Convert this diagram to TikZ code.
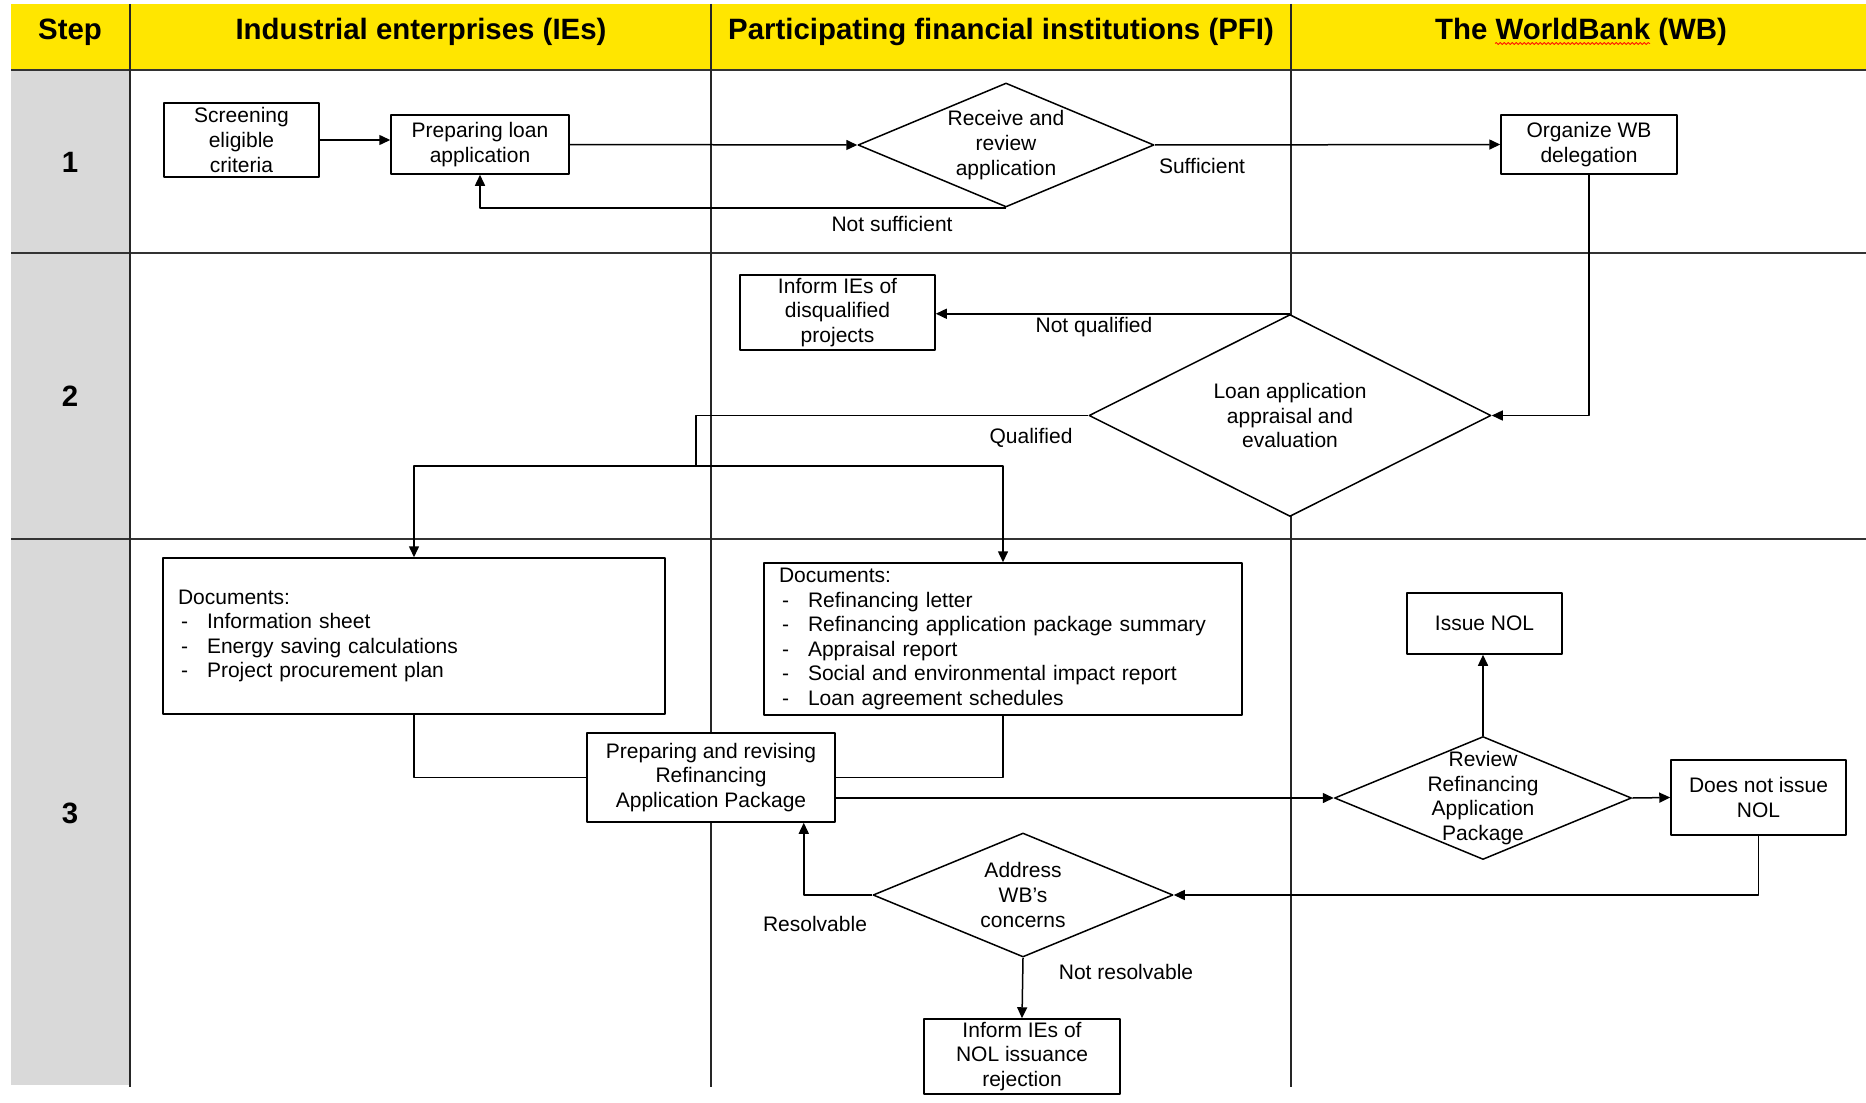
\documentclass[tikz,border=0pt]{standalone}
\usepackage{fontspec}
\setmainfont{Liberation Sans}
\usepackage{xcolor}
\usepackage{tikz}
\usetikzlibrary{arrows.meta,calc,shapes.geometric,decorations.pathmorphing}
\definecolor{hdryellow}{HTML}{FFE600}
\definecolor{stepgrey}{HTML}{D9D9D9}
\definecolor{rulegrey}{HTML}{333333}
\newcommand{\docitem}[1]{\makebox[14.5pt][l]{\hspace{1.5pt}-}#1}

\begin{document}
\begin{tikzpicture}[x=0.5pt,y=-0.5pt,>={Triangle[length=5.5pt,width=5pt]},line join=round,
    font=\fontsize{10.5}{12.3}\selectfont,
    box/.style={draw,fill=white,line width=0.75pt,align=center,inner sep=0pt},
    docbox/.style={draw,fill=white,line width=0.75pt,align=left,inner xsep=7.5pt,inner ysep=0pt},
    dia/.style={diamond,draw,fill=white,line width=0.75pt,inner sep=0pt},
    dtext/.style={align=center},
    hdr/.style={font=\fontsize{14.7}{17}\selectfont\bfseries,anchor=base},
    lbl/.style={text height=7pt,text depth=2pt,inner sep=0pt},
    flow/.style={line width=0.75pt}]
  \useasboundingbox (0,0) rectangle (1866,1102);
  % swimlane background
  \fill[hdryellow] (11,4) rectangle (1866,70);
  \fill[stepgrey] (11,70) rectangle (130,1085);
  \draw[rulegrey,line width=1pt] (11,70) -- (1866,70);
  \draw[rulegrey,line width=1pt] (11,253) -- (1866,253);
  \draw[rulegrey,line width=1pt] (11,539) -- (1866,539);
  \draw[black!85,line width=1pt] (130,4) -- (130,1087);
  \draw[black!85,line width=1pt] (711,4) -- (711,1087);
  \draw[black!85,line width=1pt] (1291,4) -- (1291,1087);
  \node[hdr] (hstep) at (70,39.5) {Step};
  \node[hdr] (hie) at (421,39.5) {Industrial enterprises (IEs)};
  \node[hdr] (hpfi) at (1001,39.5) {Participating financial institutions (PFI)};
  \node[hdr] (hwb) at (1581,39.5) {The WorldBank (WB)};
  \draw[red!85!orange,line width=0.4pt,decorate,decoration={snake,amplitude=0.5pt,segment length=2pt}] (1495,43.5) -- (1650,43.5);
  \node[font=\fontsize{14.7}{17}\selectfont\bfseries] (s1) at (70,162) {1};
  \node[font=\fontsize{14.7}{17}\selectfont\bfseries] (s2) at (70,396) {2};
  \node[font=\fontsize{14.7}{17}\selectfont\bfseries] (s3) at (70,813) {3};
  % step 1
  \node[box,minimum width=77.5pt,minimum height=37pt] (scr) at (241.5,140) {Screening\\eligible\\criteria};
  \node[box,minimum width=89pt,minimum height=29.5pt] (loan) at (480,144.5) {Preparing loan\\application};
  \node[dia,minimum width=148pt,minimum height=62pt,label={[dtext]center:{Receive and\\review\\application}}] (recv) at (1006,145) {};
  \node[box,minimum width=88pt,minimum height=29.5pt] (org) at (1589,144.5) {Organize WB\\delegation};
  % step 2
  \node[box,minimum width=97.5pt,minimum height=37.5pt] (disq) at (837.5,312.5) {Inform IEs of\\disqualified\\projects};
  \node[dia,minimum width=201pt,minimum height=101pt,label={[dtext]center:{Loan application\\appraisal and\\evaluation}}] (appr) at (1290,415.5) {};
  % step 3
  \node[docbox,text width=236pt,minimum height=78pt] (docie) at (414,636) {Documents:\\
    \docitem{Information sheet}\\
    \docitem{Energy saving calculations}\\
    \docitem{Project procurement plan}};
  \node[docbox,text width=224pt,minimum height=76pt] (docpfi) at (1003,639) {Documents:\\
    \docitem{Refinancing letter}\\
    \docitem{Refinancing application package summary}\\
    \docitem{Appraisal report}\\
    \docitem{Social and environmental impact report}\\
    \docitem{Loan agreement schedules}};
  \node[box,minimum width=124pt,minimum height=44.5pt] (prep) at (711,777.5) {Preparing and revising\\Refinancing\\Application Package};
  \node[dia,minimum width=148.5pt,minimum height=61.5pt,label={[dtext]center:{Review\\Refinancing\\Application\\Package}}] (rev) at (1483,798) {};
  \node[box,minimum width=77.5pt,minimum height=30.5pt] (nol) at (1484.5,623.5) {Issue NOL};
  \node[box,minimum width=87.5pt,minimum height=37.5pt] (nonol) at (1758.5,797.5) {Does not issue\\NOL};
  \node[dia,minimum width=150pt,minimum height=62pt,label={[dtext]center:{Address\\WB's\\concerns}}] (addr) at (1023,895) {};
  \node[box,minimum width=98pt,minimum height=37.5pt] (rej) at (1022,1056.5) {Inform IEs of\\NOL issuance\\rejection};
  % connectors
  \draw[flow,->] (scr.east) -- (scr.east -| loan.west);
  \draw[flow,->] (loan.east) -- (recv.west);
  \draw[flow,->] (recv.south) -| (loan.south);
  \draw[flow,->] (recv.east) -- (org.west);
  \draw[flow,->] (org.south) |- (appr.east);
  \draw[flow,->] (appr.north) -- (appr.north -| disq.east);
  \coordinate (qsplit) at (696,466);
  \draw[flow] (appr.west) -| (qsplit);
  \draw[flow,->] (qsplit) -| (docie.north);
  \draw[flow,->] (qsplit) -| (docpfi.north);
  \draw[flow] (docie.south) |- (prep.west);
  \draw[flow] (docpfi.south) |- (prep.east);
  \draw[flow,->] (prep.east |- rev.west) -- (rev.west);
  \draw[flow,->] (rev.north) -- (rev.north |- nol.south);
  \draw[flow,->] (rev.east) -- (nonol.west);
  \draw[flow,->] (nonol.south) |- (addr.east);
  \draw[flow,->] (addr.west) -| ([xshift=-16pt]prep.south east);
  \draw[flow,->] (addr.south) -- (rej.north);
  % branch labels
  \node[lbl] (lsuff) at (1202,168) {Sufficient};
  \node[lbl] (lnsuff) at (892,226) {Not sufficient};
  \node[lbl] (lnq) at (1094,327) {Not qualified};
  \node[lbl] (lq) at (1031,438) {Qualified};
  \node[lbl] (lres) at (815,926) {Resolvable};
  \node[lbl] (lnres) at (1126,974) {Not resolvable};
\end{tikzpicture}
\end{document}
